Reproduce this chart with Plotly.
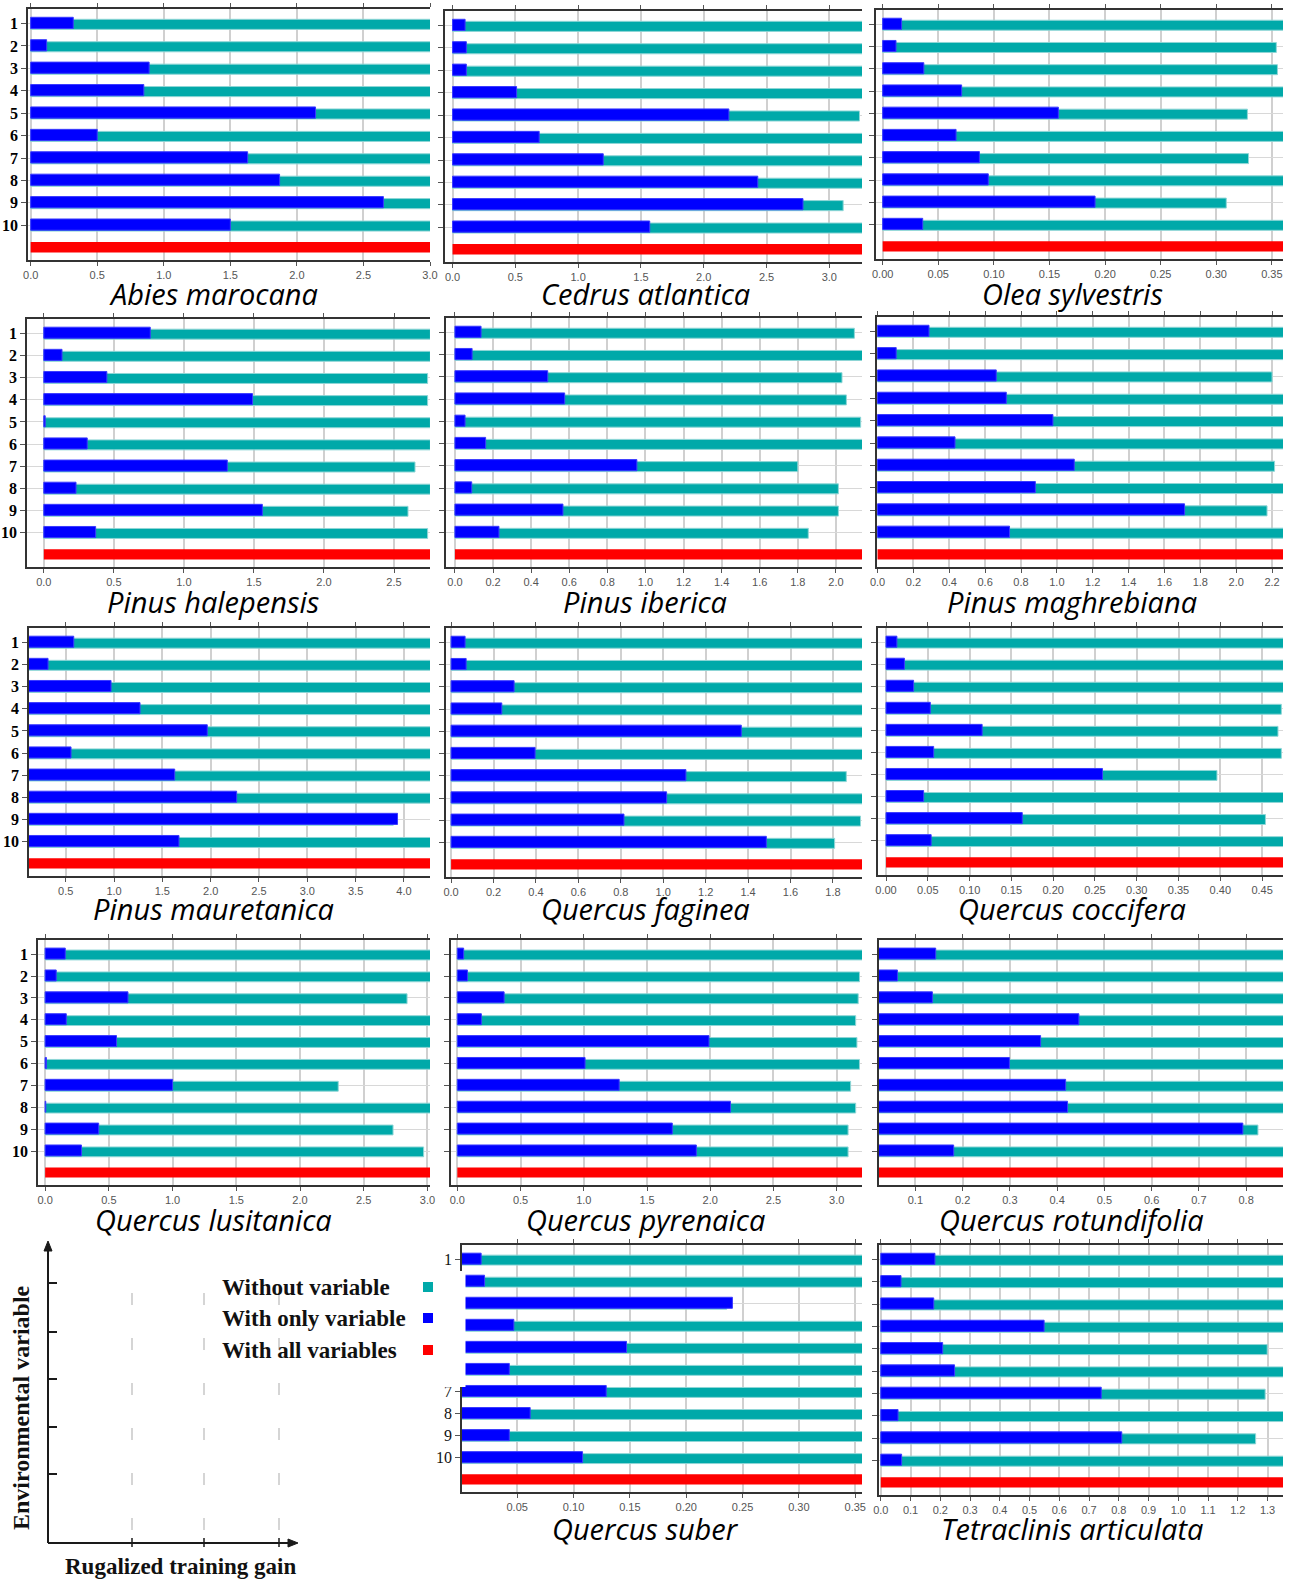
import plotly.graph_objects as go

W, H = 1295, 1580

categories = [1, 2, 3, 4, 5, 6, 7, 8, 9, 10]
cat_labels = ["1", "2", "3", "4", "5", "6", "7", "8", "9", "10"]
suber_labels = ["1", "", "", "", "", "", "7", "8", "9", "10"]

species = ["Abies marocana", "Cedrus atlantica", "Olea sylvestris",
           "Pinus halepensis", "Pinus iberica", "Pinus maghrebiana",
           "Pinus mauretanica", "Quercus faginea", "Quercus coccifera",
           "Quercus lusitanica", "Quercus pyrenaica", "Quercus rotundifolia",
           "Quercus suber", "Tetraclinis articulata"]

# "With only variable" gains
abies_only = [0.32, 0.12, 0.89, 0.85, 2.14, 0.50, 1.63, 1.87, 2.65, 1.50]
cedrus_only = [0.10, 0.11, 0.11, 0.51, 2.20, 0.69, 1.20, 2.43, 2.79, 1.57]
olea_only = [0.017, 0.012, 0.037, 0.071, 0.158, 0.066, 0.087, 0.095, 0.191, 0.036]
halepensis_only = [0.76, 0.13, 0.45, 1.49, 0.01, 0.31, 1.31, 0.23, 1.56, 0.37]
iberica_only = [0.137, 0.09, 0.487, 0.576, 0.053, 0.161, 0.955, 0.088, 0.567, 0.231]
maghrebiana_only = [0.287, 0.104, 0.662, 0.718, 0.978, 0.432, 1.097, 0.88, 1.712, 0.736]
mauretanica_only = [0.583, 0.317, 0.969, 1.269, 1.965, 0.555, 1.628, 2.269, 3.934, 1.672]
faginea_only = [0.066, 0.071, 0.297, 0.239, 1.368, 0.396, 1.107, 1.016, 0.815, 1.486]
coccifera_only = [0.013, 0.022, 0.033, 0.053, 0.115, 0.057, 0.259, 0.045, 0.163, 0.054]
lusitanica_only = [0.158, 0.087, 0.65, 0.166, 0.56, 0.01, 1.0, 0.005, 0.42, 0.285]
pyrenaica_only = [0.05, 0.08, 0.37, 0.19, 1.99, 1.01, 1.28, 2.16, 1.70, 1.89]
rotundifolia_only = [0.143, 0.062, 0.136, 0.446, 0.365, 0.299, 0.418, 0.422, 0.793, 0.181]
suber_only = [0.018, 0.021, 0.241, 0.047, 0.147, 0.043, 0.129, 0.0615, 0.043, 0.108]
tetraclinis_only = [0.182, 0.068, 0.178, 0.549, 0.208, 0.248, 0.741, 0.058, 0.81, 0.07]

# "Without variable" gains
abies_without = [3.02, 3.02, 3.02, 3.02, 3.02, 3.02, 3.02, 3.02, 3.02, 3.02]
cedrus_without = [3.27, 3.27, 3.27, 3.27, 3.24, 3.27, 3.27, 3.27, 3.11, 3.27]
olea_without = [0.362, 0.354, 0.355, 0.362, 0.328, 0.362, 0.329, 0.362, 0.309, 0.362]
halepensis_without = [2.76, 2.76, 2.74, 2.74, 2.76, 2.76, 2.65, 2.76, 2.60, 2.74]
iberica_without = [2.097, 2.14, 2.032, 2.055, 2.13, 2.14, 1.80, 2.013, 2.013, 1.855]
maghrebiana_without = [2.27, 2.27, 2.20, 2.27, 2.27, 2.27, 2.214, 2.27, 2.172, 2.27]
mauretanica_without = [4.28, 4.28, 4.28, 4.28, 4.28, 4.28, 4.28, 4.28, 3.89, 4.28]
faginea_without = [1.94, 1.94, 1.94, 1.94, 1.94, 1.94, 1.863, 1.94, 1.93, 1.808]
coccifera_without = [0.476, 0.476, 0.476, 0.473, 0.469, 0.473, 0.396, 0.476, 0.454, 0.476]
lusitanica_without = [3.03, 3.03, 2.84, 3.03, 3.03, 3.03, 2.30, 3.03, 2.73, 2.97]
pyrenaica_without = [3.21, 3.18, 3.17, 3.15, 3.16, 3.18, 3.11, 3.15, 3.09, 3.09]
rotundifolia_without = [0.88, 0.88, 0.88, 0.88, 0.88, 0.88, 0.88, 0.88, 0.825, 0.88]
suber_without = [0.357, 0.357, 0.236, 0.357, 0.357, 0.357, 0.357, 0.357, 0.357, 0.357]
tetraclinis_without = [1.36, 1.36, 1.36, 1.36, 1.299, 1.36, 1.292, 1.36, 1.26, 1.36]

# "With all variables" gain
all_gain = [3.02, 3.27, 0.362, 2.76, 2.14, 2.27, 4.28, 1.94, 0.476, 3.03, 3.21, 0.88, 0.357, 1.36]

only_series = [abies_only, cedrus_only, olea_only, halepensis_only, iberica_only,
               maghrebiana_only, mauretanica_only, faginea_only, coccifera_only,
               lusitanica_only, pyrenaica_only, rotundifolia_only, suber_only,
               tetraclinis_only]
without_series = [abies_without, cedrus_without, olea_without, halepensis_without,
                  iberica_without, maghrebiana_without, mauretanica_without,
                  faginea_without, coccifera_without, lusitanica_without,
                  pyrenaica_without, rotundifolia_without, suber_without,
                  tetraclinis_without]

legend_labels = ["Without variable", "With only variable", "With all variables"]

TEAL = "#00A9A9"
BLUE = "#0000FF"
RED = "#FF0000"

# panel layout: pixel box (x0, x1, y0, y1), x range, dtick, tick format, label mode, title center
panels = [
    dict(box=(28, 430, 9, 260), xr=(-0.02, 3.0), dt=0.5, fmt=".1f", lab="bold", tc=(213, 293)),
    dict(box=(445, 862, 11, 262), xr=(-0.06, 3.26), dt=0.5, fmt=".1f", lab=None, tc=(645, 293)),
    dict(box=(876, 1283, 10, 259), xr=(-0.006, 0.36), dt=0.05, fmt=".2f", lab=None, tc=(1072, 293)),
    dict(box=(27, 430, 319, 567), xr=(-0.12, 2.757), dt=0.5, fmt=".1f", lab="bold", tc=(213, 601)),
    dict(box=(446, 862, 318, 567), xr=(-0.047, 2.137), dt=0.2, fmt=".1f", lab=None, tc=(645, 601)),
    dict(box=(877, 1283, 317, 567), xr=(-0.003, 2.261), dt=0.2, fmt=".1f", lab=None, tc=(1072, 601)),
    dict(box=(29, 430, 628, 876), xr=(0.12, 4.27), dt=0.5, fmt=".1f", lab="bold", tc=(213, 909)),
    dict(box=(446, 862, 628, 877), xr=(-0.024, 1.937), dt=0.2, fmt=".1f", lab=None, tc=(645, 909)),
    dict(box=(878, 1283, 628, 875), xr=(-0.0096, 0.475), dt=0.05, fmt=".2f", lab=None, tc=(1072, 909)),
    dict(box=(38, 430, 940, 1185), xr=(-0.056, 3.02), dt=0.5, fmt=".1f", lab="bold", tc=(213, 1219)),
    dict(box=(451, 862, 940, 1185), xr=(-0.05, 3.2), dt=0.5, fmt=".1f", lab=None, tc=(645, 1219)),
    dict(box=(879, 1283, 940, 1185), xr=(0.023, 0.878), dt=0.1, fmt=".1f", lab=None, tc=(1071, 1219)),
    dict(box=(462, 862, 1245, 1492), xr=(0.001, 0.356), dt=0.05, fmt=".2f", lab="suber", tc=(645, 1528)),
    dict(box=(879, 1283, 1245, 1495), xr=(-0.006, 1.352), dt=0.1, fmt=".1f", lab=None, tc=(1072, 1528)),
]


def px(x):
    return x / W


def py(y):
    return 1 - y / H


fig = go.Figure()
annotations = []
shapes = []

for i, p in enumerate(panels):
    n = "" if i == 0 else str(i + 1)
    xa, ya = "x" + n, "y" + n
    fig.add_trace(go.Bar(
        x=without_series[i], y=categories, orientation="h", xaxis=xa, yaxis=ya,
        marker=dict(color=TEAL, line=dict(color="#8fd6d6", width=1)),
        width=0.45, offset=-0.19, name=legend_labels[0], showlegend=False,
        hoverinfo="x"))
    fig.add_trace(go.Bar(
        x=only_series[i], y=categories, orientation="h", xaxis=xa, yaxis=ya,
        marker=dict(color=BLUE, line=dict(color="#3a3aff", width=1)),
        width=0.5, offset=-0.28, name=legend_labels[1], showlegend=False,
        hoverinfo="x"))
    fig.add_trace(go.Bar(
        x=[all_gain[i]], y=[11], orientation="h", xaxis=xa, yaxis=ya,
        marker=dict(color=RED, line=dict(width=0)),
        width=0.46, offset=-0.25, name=legend_labels[2], showlegend=False,
        hoverinfo="x"))

    x0, x1, y0, y1 = p["box"]
    if p["lab"] == "bold":
        ttext = ["<b>" + t + "</b>" for t in cat_labels]
        tfont = dict(family="Liberation Serif", size=16, color="#000000")
    elif p["lab"] == "suber":
        ttext = suber_labels
        tfont = dict(family="Liberation Serif", size=16, color="#111111")
    else:
        ttext = ["" for _ in cat_labels]
        tfont = dict(family="Liberation Serif", size=16, color="#000000")

    xaxis = dict(
        domain=[px(x0), px(x1)], anchor=ya, range=list(p["xr"]),
        dtick=p["dt"], tick0=0, tickformat=p["fmt"],
        showgrid=True, gridcolor="#d0d0d0", gridwidth=1.5,
        showline=True, linecolor="#333333", linewidth=1.5, mirror="ticks",
        ticks="outside", ticklen=4, tickcolor="#555555",
        tickfont=dict(family="Liberation Sans", size=11, color="#555555"),
        zeroline=False, fixedrange=True, automargin=False)
    yaxis = dict(
        domain=[py(y1), py(y0)], anchor=xa, range=[11.55, 0.35],
        tickmode="array", tickvals=categories, ticktext=ttext, tickfont=tfont,
        showgrid=True, gridcolor="#d8d8d8", gridwidth=1,
        showline=True, linecolor="#333333", linewidth=1.5,
        ticks="outside", ticklen=5, tickcolor="#555555",
        zeroline=False, fixedrange=True, automargin=False)
    fig.layout["xaxis" + n] = xaxis
    fig.layout["yaxis" + n] = yaxis

    annotations.append(dict(
        x=px(p["tc"][0]), y=py(p["tc"][1]), xref="paper", yref="paper",
        text="<i>" + species[i] + "</i>", showarrow=False,
        xanchor="center", yanchor="middle",
        font=dict(family="Open Sans", size=29, color="#000000")))

# white patch over the Quercus suber axis where the legend image overlapped
shapes.append(dict(type="rect", xref="paper", yref="paper",
                   x0=px(437), x1=px(465.5), y0=py(1387), y1=py(1271),
                   fillcolor="#FFFFFF", line=dict(width=0), layer="above"))

# ---- explanatory axes panel (bottom left) ----
AX = "#1a1a1a"
ox, oy = 48, 1543
shapes.append(dict(type="line", xref="paper", yref="paper",
                   x0=px(ox), y0=py(oy), x1=px(ox), y1=py(1250),
                   line=dict(color=AX, width=2)))
shapes.append(dict(type="line", xref="paper", yref="paper",
                   x0=px(ox), y0=py(oy), x1=px(292), y1=py(oy),
                   line=dict(color=AX, width=2)))
# arrowheads
shapes.append(dict(type="path", xref="paper", yref="paper",
                   path=f"M {px(ox-4)} {py(1251)} L {px(ox)} {py(1241)} L {px(ox+4)} {py(1251)} Z",
                   fillcolor=AX, line=dict(color=AX, width=1)))
shapes.append(dict(type="path", xref="paper", yref="paper",
                   path=f"M {px(288)} {py(oy-4)} L {px(298)} {py(oy)} L {px(288)} {py(oy+4)} Z",
                   fillcolor=AX, line=dict(color=AX, width=1)))
for ty in [1283, 1332, 1379, 1427, 1474]:
    shapes.append(dict(type="line", xref="paper", yref="paper",
                       x0=px(ox), y0=py(ty), x1=px(ox + 9), y1=py(ty),
                       line=dict(color=AX, width=2)))
for tx in [132, 204, 279]:
    shapes.append(dict(type="line", xref="paper", yref="paper",
                       x0=px(tx), y0=py(oy - 5), x1=px(tx), y1=py(oy + 4),
                       line=dict(color=AX, width=1.5)))
    shapes.append(dict(type="line", xref="paper", yref="paper",
                       x0=px(tx), y0=py(1530), x1=px(tx), y1=py(1262),
                       line=dict(color="#c8c8c8", width=1.5, dash="12px,33px")))

annotations.append(dict(
    x=px(21), y=py(1408), xref="paper", yref="paper", text="<b>Environmental variable</b>",
    textangle=-90, showarrow=False, xanchor="center", yanchor="middle",
    font=dict(family="Liberation Serif", size=24, color="#111111")))
annotations.append(dict(
    x=px(181), y=py(1566), xref="paper", yref="paper", text="<b>Rugalized training gain</b>",
    showarrow=False, xanchor="center", yanchor="middle",
    font=dict(family="Liberation Serif", size=23, color="#111111")))

leg_colors = [TEAL, BLUE, RED]
leg_y = [1287, 1318, 1350]
for lab, col, ly in zip(legend_labels, leg_colors, leg_y):
    annotations.append(dict(
        x=px(220), y=py(ly), xref="paper", yref="paper", text="<b>" + lab + "</b>",
        showarrow=False, xanchor="left", yanchor="middle",
        font=dict(family="Liberation Serif", size=23, color="#111111")))
    shapes.append(dict(type="rect", xref="paper", yref="paper",
                       x0=px(423), x1=px(433), y0=py(ly + 5), y1=py(ly - 5),
                       fillcolor=col, line=dict(width=0)))

fig.update_layout(
    width=W, height=H, margin=dict(l=0, r=0, t=0, b=0, autoexpand=False),
    paper_bgcolor="#FFFFFF", plot_bgcolor="#FFFFFF",
    barmode="overlay", showlegend=False,
    annotations=annotations, shapes=shapes)

fig.write_html("out.html", config={"displayModeBar": False},
               post_script="document.body.style.margin='0';document.body.style.padding='0';")
